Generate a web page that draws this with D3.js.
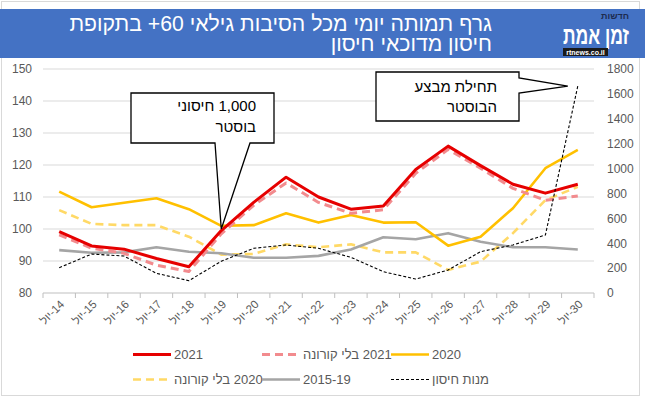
<!DOCTYPE html>
<html>
<head>
<meta charset="utf-8">
<script src="https://cdn.jsdelivr.net/npm/d3@7"></script>
<style>
  body { margin: 0; background: #fff; }
  svg { display: block; font-family: "Liberation Sans", Arial, sans-serif; }
</style>
</head>
<body>
<svg id="chart" width="645" height="398"></svg>
<script>
// daily mortality 60+, July days
const days = ["14", "15", "16", "17", "18", "19", "20", "21", "22", "23", "24", "25", "26", "27", "28", "29", "30"];
const deaths2021 = [99.2, 94.7, 93.7, 90.8, 88.2, 99.5, 108.3, 116.2, 110, 106.2, 107.2, 118.6, 125.9, 119.8, 114, 111.2, 114];
const deaths2021NoCovid = [98.2, 94, 92.4, 88.7, 86.7, 98.5, 107.4, 114.4, 108.3, 104.9, 106, 117.4, 124.9, 119, 112.7, 109, 110.3];
const deaths2020 = [111.7, 106.8, 108.2, 109.6, 106.2, 101, 101.2, 104.9, 102, 104.4, 102, 102.1, 94.8, 97.6, 106.5, 119, 124.7];
const deaths2020NoCovid = [105.9, 101.6, 101.2, 101.2, 97.6, 92, 92.2, 95.2, 94.3, 95.2, 92.7, 92.7, 87.2, 89.8, 98.7, 109, 113.2];
const deaths2015to19 = [93.4, 92.6, 92.7, 94.3, 92.9, 92.4, 91, 91, 91.6, 93.6, 97.4, 96.8, 98.7, 96, 94.3, 94.3, 93.6];
const boosterDoses = [203, 313, 297, 158, 99, 255, 359, 386, 359, 287, 171, 112, 185, 332, 386, 466, 1663];
const leftTicks = [80, 90, 100, 110, 120, 130, 140, 150];
const rightTicks = [0, 200, 400, 600, 800, 1000, 1200, 1400, 1600, 1800];

const svg = d3.select("#chart");
const grey = "#595959";

// frame + title bar
svg.append("rect").attr("x", 1.5).attr("y", 1.5).attr("width", 638).attr("height", 394)
  .attr("fill", "#fff").attr("stroke", "#d9d9d9");
svg.append("rect").attr("x", 0).attr("y", 9).attr("width", 645).attr("height", 49).attr("fill", "#4472c4");

// lays out pieces (visual left-to-right order) so mixed hebrew/number text comes out as in the picture
function rowText(g, ax, y, pieces, size, fill, align) {
  const gap = size * 0.28;
  const nodes = pieces.map(p => g.append("text")
    .attr("y", y)
    .attr("font-size", size)
    .attr("fill", fill)
    .text(p));
  const widths = nodes.map(n => n.node().getComputedTextLength());
  const total = d3.sum(widths) + gap * (pieces.length - 1);
  let cx = align === "right" ? ax - total : ax;
  nodes.forEach((n, i) => {
    n.attr("x", cx);
    cx += widths[i] + gap;
  });
}

rowText(svg, 492, 31, ["בתקופת", "+60", "גרף תמותה יומי  מכל הסיבות גילאי"], 21.2, "#fff", "right");
rowText(svg, 492, 51, ["חיסון מדוכאי חיסון"], 21.2, "#fff", "right");

// logo
const logo = svg.append("g");
logo.append("text").attr("x", 629).attr("y", 19).attr("text-anchor", "end")
  .attr("font-size", 9).attr("font-weight", "bold").attr("fill", "#1d2b4f").text("חדשות");
logo.append("text").attr("x", 563).attr("y", 44)
  .attr("font-size", 25).attr("font-weight", "bold").attr("fill", "#fff")
  .attr("textLength", 66).attr("lengthAdjust", "spacingAndGlyphs")
  .text("זמן אמת");
logo.append("rect").attr("x", 563).attr("y", 48).attr("width", 45).attr("height", 8).attr("fill", "#1a1a1a");
logo.append("text").attr("x", 585.5).attr("y", 55).attr("text-anchor", "middle")
  .attr("font-size", 7).attr("font-weight", "bold").attr("fill", "#fff").text("rtnews.co.il");

// scales
const x = d3.scaleBand().domain(days).range([43, 594]);
const px = d => x(d) + x.bandwidth() / 2;
const yL = d3.scaleLinear().domain([80, 150]).range([293, 69]);
const yR = d3.scaleLinear().domain([0, 1800]).range([293, 69]);

// gridlines
svg.append("g").selectAll("line").data(leftTicks.slice(1)).enter().append("line")
  .attr("x1", 43).attr("x2", 594)
  .attr("y1", d => yL(d)).attr("y2", d => yL(d))
  .attr("stroke", "#d9d9d9").attr("stroke-width", 1);

// axes
const axL = svg.append("g").attr("transform", "translate(43,0)")
  .call(d3.axisLeft(yL).tickValues(leftTicks).tickSize(0).tickPadding(11));
const axR = svg.append("g").attr("transform", "translate(594,0)")
  .call(d3.axisRight(yR).tickValues(rightTicks).tickFormat(d3.format("d")).tickSize(0).tickPadding(13));
[axL, axR].forEach(a => {
  a.select(".domain").remove();
  a.selectAll("text").attr("font-size", 12).attr("fill", grey).attr("font-family", "Liberation Sans, Arial, sans-serif");
});

const axB = svg.append("g").attr("transform", "translate(0,293)");
axB.append("line").attr("x1", 43).attr("x2", 594).attr("stroke", "#bfbfbf");
axB.selectAll(".tk").data(d3.range(days.length + 1)).enter().append("line")
  .attr("x1", i => 43 + i * x.step()).attr("x2", i => 43 + i * x.step())
  .attr("y1", 0).attr("y2", 5).attr("stroke", "#bfbfbf");
days.forEach(d => {
  axB.append("text")
    .attr("transform", `translate(${px(d) + 3},9) rotate(-45)`)
    .attr("text-anchor", "end")
    .attr("dy", "0.35em")
    .attr("font-size", 11.5)
    .attr("fill", grey)
    .text("יול\u200E-" + d);
});

// series
const series = [
  { values: deaths2020NoCovid, scale: yL, color: "#ffd966", width: 2.6, dash: "8,5" },
  { values: deaths2015to19, scale: yL, color: "#a5a5a5", width: 2.6, dash: null },
  { values: deaths2020, scale: yL, color: "#ffc000", width: 2.6, dash: null },
  { values: deaths2021NoCovid, scale: yL, color: "#f28b8e", width: 3, dash: "8,5" },
  { values: deaths2021, scale: yL, color: "#e60000", width: 3, dash: null },
  { values: boosterDoses, scale: yR, color: "#000", width: 1.1, dash: "3,2" }
];
series.forEach(s => {
  const line = d3.line().x((v, i) => px(days[i])).y(v => s.scale(v));
  svg.append("path")
    .attr("d", line(s.values))
    .attr("fill", "none")
    .attr("stroke", s.color)
    .attr("stroke-width", s.width)
    .attr("stroke-dasharray", s.dash)
    .attr("stroke-linejoin", "round");
});

// callouts
const tip1 = [px("19"), yL(100)];
svg.append("path")
  .attr("d", `M131,93H274V143H250L${tip1[0]},${tip1[1]}L215,143H131Z`)
  .attr("fill", "#fff").attr("stroke", "#000").attr("stroke-width", 1.3);
rowText(svg, 256, 111, ["חיסוני", "1,000"], 15, "#000", "right");
rowText(svg, 256, 132, ["בוסטר"], 15, "#000", "right");

const tip2 = [px("30") - 10, yR(1663)];
svg.append("path")
  .attr("d", `M376,72H519V78L${tip2[0]},${tip2[1]}L519,93V121H376Z`)
  .attr("fill", "#fff").attr("stroke", "#000").attr("stroke-width", 1.3);
rowText(svg, 497, 92, ["תחילת מבצע"], 15, "#000", "right");
rowText(svg, 497, 112, ["הבוסטר"], 15, "#000", "right");

// legend
const legendItems = [
  { label: ["2021"], x0: 133, row: 0, color: "#e60000", width: 3, dash: null },
  { label: ["בלי קורונה", "2021"], x0: 262, row: 0, color: "#f28b8e", width: 3, dash: "8,5" },
  { label: ["2020"], x0: 391, row: 0, color: "#ffc000", width: 2.6, dash: null },
  { label: ["בלי קורונה", "2020"], x0: 133, row: 1, color: "#ffd966", width: 2.6, dash: "8,5" },
  { label: ["2015-19"], x0: 262, row: 1, color: "#a5a5a5", width: 2.6, dash: null },
  { label: ["מנות חיסון"], x0: 391, row: 1, color: "#000", width: 1.1, dash: "3,2" }
];
legendItems.forEach(it => {
  const cy = it.row === 0 ? 354.5 : 379.5;
  svg.append("line")
    .attr("x1", it.x0).attr("x2", it.x0 + 38)
    .attr("y1", cy).attr("y2", cy)
    .attr("stroke", it.color).attr("stroke-width", it.width)
    .attr("stroke-dasharray", it.dash);
  rowText(svg, it.x0 + 41, cy + 4.5, it.label, 13, grey, "left");
});
</script>
</body>
</html>
